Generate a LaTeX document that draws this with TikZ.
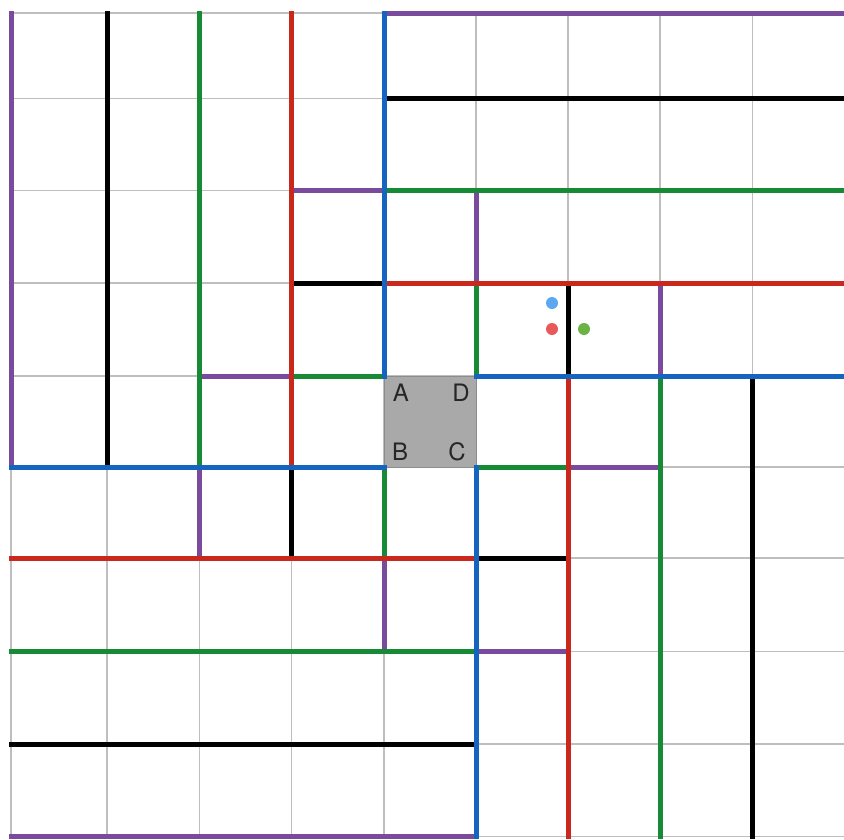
\documentclass[tikz,border=0pt]{standalone}
\usepackage{fontspec}
\setmainfont{TeX Gyre Heros}
\usepackage{tikz}
\usetikzlibrary{positioning}
\definecolor{WallPurple}{HTML}{7A4A9C}
\definecolor{WallGreen}{HTML}{178A36}
\definecolor{WallRed}{HTML}{C9291C}
\definecolor{WallBlue}{HTML}{1565C0}
\definecolor{GridGrey}{HTML}{BEBEBE}
\definecolor{CellGrey}{HTML}{A9A9A9}
\definecolor{DotBlue}{HTML}{5AA9F0}
\definecolor{DotRed}{HTML}{E85A5A}
\definecolor{DotGreen}{HTML}{6AB344}

\begin{document}
\begin{tikzpicture}[x=1pt,y=-1pt,
  gridline/.style={draw=GridGrey,line width=1.1pt},
  wall/.style={draw=#1,line width=5pt,line cap=rect},
  cornerlabel/.style={text=black!85,font=\fontsize{24}{24}\selectfont,inner sep=0pt},
  marker/.style={circle,fill=#1,minimum size=12pt,inner sep=0pt}]
  \useasboundingbox (0,0) rectangle (844,839);
  \clip (0,0) rectangle (844,839);
  % grid points p<col><row>
  \foreach \gx [count=\i from 0] in {11,107,199.5,291.5,384,476,568,660,752.5,846}{
    \foreach \gy [count=\j from 0] in {13,98.5,190.5,283,376,467,558,651.5,744,836.5}{
      \coordinate (p\i\j) at (\gx,\gy);
    }
  }
  \foreach \i in {0,...,9}{
    \draw[gridline] (p\i0) -- (p\i9);
    \draw[gridline] (p0\i) -- (p9\i);
  }
  % start cell
  \fill[CellGrey,draw=black!45,line width=0.8pt] (p44) rectangle (p55);
  \node[cornerlabel] (lblA) at (401,393) {A};
  \node[cornerlabel] (lblD) at (461,393) {D};
  \node[cornerlabel] (lblB) at (400,452) {B};
  \node[cornerlabel] (lblC) at (457,452) {C};
  % walls
  \foreach \a/\b in {p00/p05,p25/p26,p52/p53,p73/p74,p46/p47,p94/p99,
                     p40/p90,p32/p42,p24/p34,p65/p75,p57/p67,p09/p59}
    \draw[wall=WallPurple] (\a) -- (\b);
  \foreach \a/\b in {p10/p15,p35/p36,p63/p64,p84/p89,
                     p41/p91,p33/p43,p56/p66,p08/p58}
    \draw[wall=black] (\a) -- (\b);
  \foreach \a/\b in {p20/p25,p53/p54,p74/p79,p45/p46,
                     p42/p92,p34/p44,p55/p65,p07/p57}
    \draw[wall=WallGreen] (\a) -- (\b);
  \foreach \a/\b in {p30/p35,p64/p69,p43/p93,p06/p56}
    \draw[wall=WallRed] (\a) -- (\b);
  \foreach \a/\b in {p40/p44,p55/p59,p54/p94,p05/p45}
    \draw[wall=WallBlue] (\a) -- (\b);
  % markers
  \node[marker=DotBlue] (dotblue) at (552,303) {};
  \node[marker=DotRed,below=26pt of dotblue.center,anchor=center] (dotred) {};
  \node[marker=DotGreen,right=32pt of dotred.center,anchor=center] (dotgreen) {};
\end{tikzpicture}
\end{document}
